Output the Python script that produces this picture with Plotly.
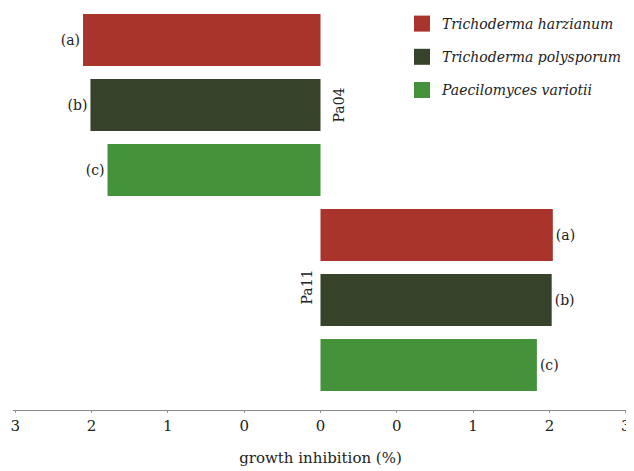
import plotly.graph_objects as go

# ---- data ----
isolates = ["Pa04", "Pa11"]
species = ["Trichoderma harzianum", "Trichoderma polysporum", "Paecilomyces variotii"]
bar_labels = ["(a)", "(b)", "(c)"]
pa04_values = [2.085, 2.02, 1.87]   # drawn to the left
pa11_values = [2.04, 2.03, 1.90]    # drawn to the right
colors = ["#A9342C", "#36432A", "#44923A"]
tick_positions = [-2.68, -2.01, -1.34, -0.67, 0, 0.67, 1.34, 2.01, 2.68]
tick_labels = ["3", "2", "1", "0", "0", "0", "1", "2", "3"]

FONT = "DejaVu Serif"
W, H = 626, 463

fig = go.Figure()
for i, sp in enumerate(species):
    fig.add_trace(go.Bar(
        y=isolates,
        x=[-pa04_values[i], pa11_values[i]],
        orientation="h",
        marker=dict(color=colors[i], line=dict(width=0)),
        text=[bar_labels[i], bar_labels[i]],
        textposition="outside",
        textangle=0,
        constraintext="none",
        cliponaxis=False,
        textfont=dict(family=FONT, size=14, color="#222"),
        showlegend=False,
        hoverinfo="skip",
    ))
# legend entries (square swatches)
for i, sp in enumerate(species):
    fig.add_trace(go.Scatter(
        x=[None], y=[None], mode="markers",
        marker=dict(symbol="square", size=16, color=colors[i]),
        name="<i>" + sp + "</i>",
        legendgroup="g%d" % i,
        showlegend=True,
    ))

fig.add_annotation(x=0, y="Pa04", text="Pa04", textangle=-90, showarrow=False,
                   xanchor="center", yanchor="middle", xshift=18,
                   font=dict(family=FONT, size=14, color="#222"))
fig.add_annotation(x=0, y="Pa11", text="Pa11", textangle=-90, showarrow=False,
                   xanchor="center", yanchor="middle", xshift=-14, yshift=13,
                   font=dict(family=FONT, size=14, color="#222"))

fig.update_layout(
    width=W, height=H,
    margin=dict(l=5, r=6, t=0, b=61, autoexpand=False),
    paper_bgcolor="white", plot_bgcolor="white",
    barmode="group", bargap=0.0, bargroupgap=0.2,
    font=dict(family=FONT, color="#222"),
    xaxis=dict(
        range=[-2.70, 2.70],
        tickvals=tick_positions, ticktext=tick_labels,
        ticklabeloverflow="allow",
        showgrid=False, zeroline=False,
        showline=True, linecolor="#888", linewidth=1,
        ticks="outside", ticklen=2, tickcolor="#999",
        tickfont=dict(family=FONT, size=15, color="#222"),
        title=dict(text="growth inhibition (%)", font=dict(family=FONT, size=15, color="#222"), standoff=18),
    ),
    yaxis=dict(
        range=[1.564, -0.497],
        showticklabels=False, showgrid=False, zeroline=False, showline=False, ticks="",
    ),
    legend=dict(
        xref="container", yref="container",
        x=394 / W, y=1.0, xanchor="left", yanchor="top",
        font=dict(family=FONT, size=14, color="#222"),
        tracegroupgap=12, bgcolor="rgba(0,0,0,0)",
    ),
)

fig.write_html("out.html")
